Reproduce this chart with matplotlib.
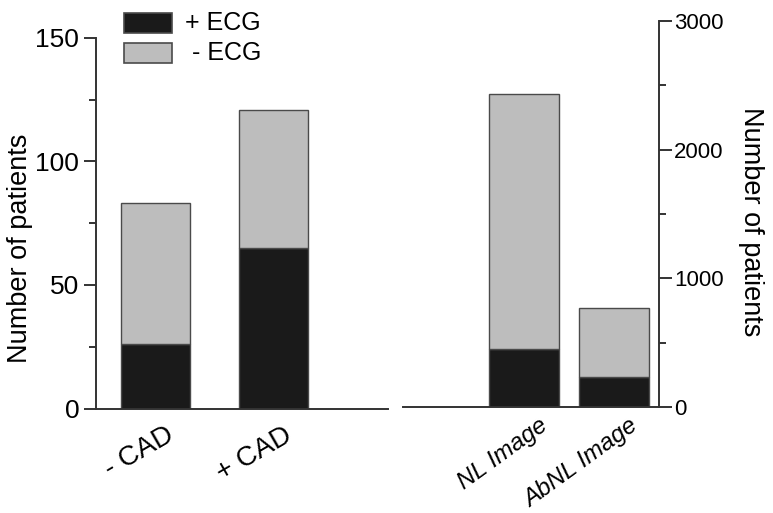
import matplotlib
matplotlib.use("Agg")
import matplotlib.pyplot as plt
from matplotlib.patches import Rectangle
from matplotlib.ticker import MultipleLocator
from matplotlib.transforms import ScaledTranslation

plt.rcParams['font.family'] = ['Liberation Sans', 'DejaVu Sans']

# Patient counts, split by ECG result
cad_groups = ["- CAD", "+ CAD"]
cad_ecg_pos = [26, 65]
cad_ecg_neg = [57, 56]

img_groups = ["NL Image", "AbNL Image"]
img_ecg_pos = [450, 235]
img_ecg_neg = [1980, 535]

legend_labels = ["+ ECG", " - ECG"]
ylabel = "Number of patients"

dark = "#1a1a1a"
light = "#bdbdbd"
edge = "#4a4a4a"
spine_c = "#333333"

W, H = 773, 513
fig = plt.figure(figsize=(W / 100, H / 100), dpi=100)


def shift_labels(ax, dx_px, dy_px):
    off = ScaledTranslation(dx_px / 100, dy_px / 100, fig.dpi_scale_trans)
    for lab in ax.get_xticklabels():
        lab.set_transform(lab.get_transform() + off)


# Left panel: CAD groups
axL = fig.add_axes([96 / W, 1 - 408.5 / H, 292 / W, 370.5 / H])
xl = list(range(len(cad_groups)))
axL.bar(xl, cad_ecg_pos, width=0.585, color=dark, edgecolor=edge, linewidth=1.0)
axL.bar(xl, cad_ecg_neg, bottom=cad_ecg_pos, width=0.585, color=light,
        edgecolor=edge, linewidth=1.0)
axL.set_xlim(-0.504, 1.97)
axL.set_ylim(0, 150)
axL.yaxis.set_major_locator(MultipleLocator(50))
axL.yaxis.set_minor_locator(MultipleLocator(25))
for s in ("top", "right"):
    axL.spines[s].set_visible(False)
for s in ("left", "bottom"):
    axL.spines[s].set_color(spine_c)
    axL.spines[s].set_linewidth(1.4)
axL.tick_params(axis="y", which="major", length=9, width=1.4, color=spine_c,
                labelsize=19, pad=3)
axL.tick_params(axis="y", which="minor", length=5, width=1.4, color=spine_c)
axL.tick_params(axis="x", length=0, pad=10)
axL.set_xticks(xl)
axL.set_xticklabels(cad_groups, rotation=30, ha="right", rotation_mode="anchor",
                    fontsize=20)
shift_labels(axL, 10, 0)
axL.set_ylabel(ylabel, fontsize=19.5)
axL.yaxis.set_label_coords((33 - 96) / 292, (408.5 - 248) / 370.5)

# Right panel: imaging groups
axR = fig.add_axes([403 / W, 1 - 407 / H, 256 / W, 386 / H])
xr = list(range(len(img_groups)))
axR.bar(xr, img_ecg_pos, width=0.78, color=dark, edgecolor=edge, linewidth=1.0)
axR.bar(xr, img_ecg_neg, bottom=img_ecg_pos, width=0.78, color=light,
        edgecolor=edge, linewidth=1.0)
axR.set_xlim(-1.34, 1.5)
axR.set_ylim(0, 3000)
axR.yaxis.set_major_locator(MultipleLocator(1000))
axR.yaxis.set_minor_locator(MultipleLocator(500))
axR.yaxis.tick_right()
axR.yaxis.set_label_position("right")
for s in ("top", "left"):
    axR.spines[s].set_visible(False)
for s in ("right", "bottom"):
    axR.spines[s].set_color(spine_c)
    axR.spines[s].set_linewidth(1.4)
axR.tick_params(axis="y", which="major", length=9, width=1.4, color=spine_c,
                labelsize=16, pad=2)
axR.tick_params(axis="y", which="minor", length=5, width=1.4, color=spine_c)
axR.tick_params(axis="x", length=0, pad=5)
axR.set_xticks(xr)
axR.set_xticklabels(img_groups, rotation=36, ha="right", rotation_mode="anchor",
                    fontsize=17.5, style="italic")
shift_labels(axR, 15, 0)
axR.set_ylabel(ylabel, fontsize=19.5, rotation=-90, va="top")
axR.yaxis.set_label_coords((764 - 403) / 256, (407 - 222) / 386)

# Legend drawn as figure-level swatches
for i, (lab, col) in enumerate(zip(legend_labels, [dark, light])):
    y0 = 13 + 30 * i
    fig.patches.append(Rectangle((124 / W, 1 - (y0 + 20) / H), 48 / W, 20 / H,
                                 transform=fig.transFigure, facecolor=col,
                                 edgecolor=edge, linewidth=1.2))
    fig.text(185 / W, 1 - (y0 + 10) / H, lab, fontsize=18, va="center",
             ha="left")

fig.savefig("out.png", dpi=100)
